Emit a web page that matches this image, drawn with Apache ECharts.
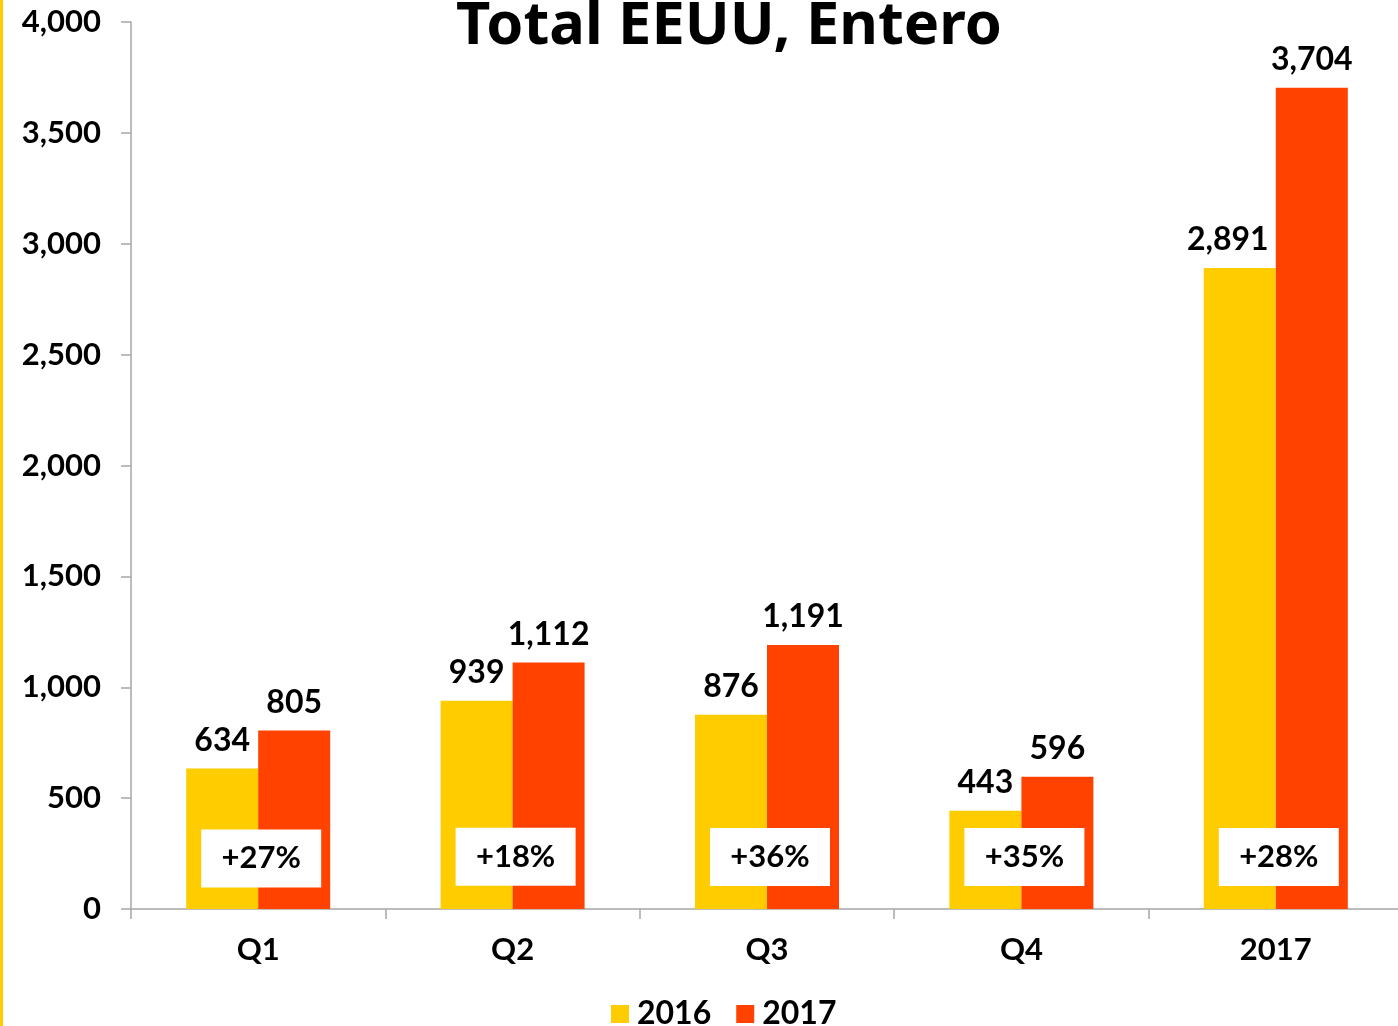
<!DOCTYPE html>
<html>
<head>
<meta charset="utf-8">
<script src="https://cdn.jsdelivr.net/npm/echarts@6/dist/echarts.min.js"></script>
<style>html,body{margin:0;padding:0;background:#fff;overflow:hidden;}#c{width:1403px;height:1026px;}</style>
</head>
<body>
<div id="c"></div>
<script>
const categories = ['Q1', 'Q2', 'Q3', 'Q4', '2017'];
const values2016 = [634, 939, 876, 443, 2891];
const values2017 = [805, 1112, 1191, 596, 3704];
const growthLabels = ['+27%', '+18%', '+36%', '+35%', '+28%'];
const growthLevel = [228, 236, 234, 234, 234];
const yTicks = [0, 500, 1000, 1500, 2000, 2500, 3000, 3500, 4000];

const fmt = v => Number(v).toLocaleString('en-US');
const chart = echarts.init(document.getElementById('c'));
const F = 'Lato';
const data2016 = values2016.map((v, i) => i === 4 ? { value: v, label: { offset: [-12, 0] } } : v);
chart.setOption({
  animation: false,
  backgroundColor: '#fff',
  title: {
    text: 'Total EEUU, Entero',
    left: 724, textAlign: 'center', top: -8,
    textStyle: { fontFamily: 'Noto Sans', fontWeight: 'bold', fontSize: 59.5, color: '#000' }
  },
  graphic: [{ type: 'rect', left: 0, top: 0, shape: { width: 3, height: 1026 }, style: { fill: '#FFCC00' } }],
  legend: {
    data: ['2016', '2017'], left: 606, top: 993, itemWidth: 18, itemHeight: 18, itemGap: 25,
    icon: 'rect',
    textStyle: { fontFamily: F, fontWeight: 'bold', fontSize: 32, color: '#000', padding: [0, 0, 0, 3] }
  },
  grid: { left: 131, right: 0, top: 22, bottom: 117, containLabel: false },
  xAxis: {
    type: 'category', data: categories,
    axisLine: { lineStyle: { color: '#a6a6a6', width: 1.5 } },
    axisTick: { show: true, length: 10, lineStyle: { color: '#a6a6a6', width: 1.5 } },
    axisLabel: { fontFamily: F, fontWeight: 'bold', fontSize: 31, color: '#000', margin: 25 }
  },
  yAxis: {
    type: 'value', min: 0, max: 4000, interval: 500,
    splitLine: { show: false },
    axisLine: { show: true, lineStyle: { color: '#a6a6a6', width: 1.5 } },
    axisTick: { show: true, length: 10, lineStyle: { color: '#a6a6a6', width: 1.5 } },
    axisLabel: { fontFamily: F, fontWeight: 'bold', fontSize: 31, color: '#000', margin: 30,
      formatter: v => yTicks.includes(v) ? fmt(v) : '' }
  },
  series: [
    { name: '2016', type: 'bar', data: data2016, barWidth: 72, barGap: '0%',
      itemStyle: { color: '#FFCC00' },
      label: { show: true, position: 'top', distance: 12, formatter: p => fmt(p.value),
        fontFamily: F, fontWeight: 'bold', fontSize: 32, color: '#000' } },
    { name: '2017', type: 'bar', data: values2017, barWidth: 72,
      itemStyle: { color: '#FF4200' },
      label: { show: true, position: 'top', distance: 12, formatter: p => fmt(p.value),
        fontFamily: F, fontWeight: 'bold', fontSize: 32, color: '#000' } },
    { name: 'growth', type: 'scatter', data: growthLevel, symbolSize: 0, silent: true, z: 10,
      itemStyle: { opacity: 1 },
      label: { show: true, position: 'inside', offset: [3, 0], opacity: 1,
        formatter: p => growthLabels[p.dataIndex],
        backgroundColor: '#fff', width: 120, height: 58, lineHeight: 58, align: 'center', verticalAlign: 'middle',
        fontFamily: F, fontWeight: 'bold', fontSize: 31, color: '#000' } }
  ]
});
</script>
</body>
</html>
